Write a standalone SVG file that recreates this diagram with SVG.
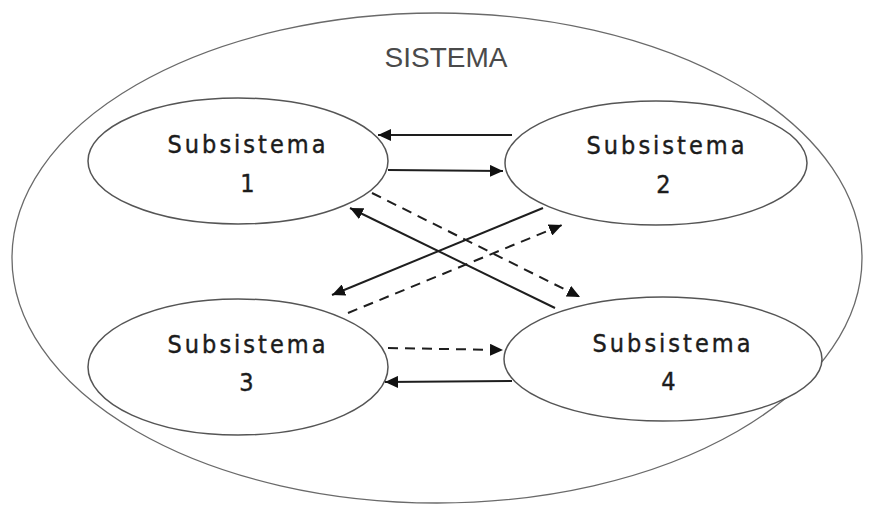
<svg xmlns="http://www.w3.org/2000/svg" width="872" height="505" viewBox="0 0 872 505">
  <style>
    .outer { fill: none; stroke: #6a6a6a; stroke-width: 1.3; }
    .node { fill: #ffffff; stroke: #555555; stroke-width: 1.5; }
    .title { font-family: "Liberation Sans", Arial, sans-serif; font-size: 28px; fill: #4a4a4a; text-anchor: middle; }
    .lbl { font-family: "DejaVu Sans", "Liberation Sans", sans-serif; font-stretch: condensed; font-size: 25px; fill: #1c1c1c; stroke: #1c1c1c; stroke-width: 0.4; text-anchor: middle; letter-spacing: 3px; }
    .solid { stroke: #1e1e1e; stroke-width: 2; fill: none; marker-end: url(#ah); }
    .dash { stroke: #1e1e1e; stroke-width: 2; fill: none; stroke-dasharray: 10 7; marker-end: url(#ah); }
  </style>
  <defs>
    <marker id="ah" markerUnits="userSpaceOnUse" markerWidth="14" markerHeight="12" refX="13" refY="6" orient="auto">
      <path d="M0,0 L13,6 L0,12 Z" fill="#111111" stroke="none"/>
    </marker>
  </defs>
  <rect width="872" height="505" fill="#ffffff"/>
  <g id="sistema">
    <ellipse class="outer" cx="437" cy="258" rx="425" ry="245"/>
    <text class="title" x="446" y="67">SISTEMA</text>
  </g>
  <g id="sub1">
    <ellipse class="node" cx="238" cy="161" rx="150" ry="63"/>
    <text class="lbl" x="248" y="153">Subsistema</text>
    <text class="lbl" x="249" y="192">1</text>
  </g>
  <g id="sub2">
    <ellipse class="node" cx="656" cy="163" rx="151" ry="62"/>
    <text class="lbl" x="667" y="154">Subsistema</text>
    <text class="lbl" x="665" y="193">2</text>
  </g>
  <g id="sub3">
    <ellipse class="node" cx="238" cy="367" rx="150" ry="68"/>
    <text class="lbl" x="248" y="353">Subsistema</text>
    <text class="lbl" x="248" y="391">3</text>
  </g>
  <g id="sub4">
    <ellipse class="node" cx="663" cy="359" rx="159" ry="62"/>
    <text class="lbl" x="673" y="352">Subsistema</text>
    <text class="lbl" x="670" y="390">4</text>
  </g>
  <g id="connectors">
    <line class="solid" x1="512" y1="135" x2="378" y2="135"/>
    <line class="solid" x1="388" y1="170" x2="503" y2="171"/>
    <line class="dash" x1="388" y1="348" x2="503" y2="350"/>
    <line class="solid" x1="512" y1="381" x2="385" y2="382"/>
    <line class="dash" x1="372" y1="193" x2="580" y2="297"/>
    <line class="solid" x1="555" y1="308" x2="350" y2="208"/>
    <line class="solid" x1="543" y1="208" x2="332" y2="295"/>
    <line class="dash" x1="348" y1="313" x2="562" y2="225"/>
  </g>
</svg>
